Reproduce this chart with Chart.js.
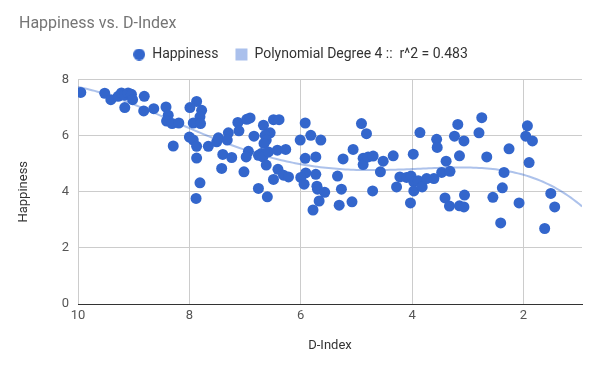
<!DOCTYPE html>
<html>
<head>
<meta charset="utf-8">
<title>Happiness vs. D-Index</title>
<script src="https://cdn.jsdelivr.net/npm/chart.js@4.4.1/dist/chart.umd.min.js"></script>
<style>
	html, body { margin: 0; padding: 0; background: #fff; }
	#wrap { width: 600px; height: 371px; }
</style>
</head>
<body>
<div id="wrap"><canvas id="chart" width="600" height="371"></canvas></div>
<script>
//______ data

var dIndex = [
	9.95, 9.52, 9.41, 9.28, 9.22, 9.16, 9.10, 9.04, 9.02, 9.16,
	8.81, 8.82, 8.64, 8.42, 8.38, 8.41, 8.31, 8.19, 8.29, 7.87,
	7.99, 7.78, 7.81, 7.93, 7.80, 8.00, 7.93, 7.87, 7.66, 7.87,
	7.81, 7.88, 7.51, 7.48, 7.40, 7.42, 7.30, 7.32, 7.24, 7.13,
	7.11, 6.97, 6.91, 6.84, 6.94, 6.98, 7.02, 6.76, 6.76, 6.67,
	6.55, 6.64, 6.62, 6.66, 6.71, 6.68, 6.58, 6.62, 6.49, 6.39,
	6.42, 6.27, 6.41, 6.49, 6.31, 6.22, 6.60, 6.01, 5.92, 5.82,
	5.64, 5.92, 5.73, 5.91, 6.00, 5.94, 5.73, 5.71, 5.70, 5.57,
	5.67, 5.78, 5.34, 5.27, 5.31, 5.08, 5.24, 5.06, 4.91, 4.82,
	4.88, 4.88, 4.79, 4.70, 4.71, 4.57, 4.52, 4.34, 4.28, 4.22,
	4.10, 4.02, 3.98, 3.97, 3.97, 3.89, 3.82, 3.74, 3.61, 4.03,
	3.86, 3.56, 3.55, 3.47, 3.39, 3.32, 3.41, 3.33, 3.15, 3.07,
	3.06, 3.24, 3.18, 3.07, 3.15, 2.80, 2.75, 2.66, 2.55, 2.38,
	2.35, 2.26, 2.41, 2.08, 1.93, 1.96, 1.84, 1.90, 1.51, 1.44,
	1.62
];

var happiness = [
	7.54, 7.51, 7.28, 7.40, 7.52, 7.44, 7.52, 7.47, 7.28, 7.00,
	7.40, 6.88, 6.96, 7.02, 6.73, 6.52, 6.43, 6.45, 5.63, 7.22,
	7.00, 6.90, 6.67, 6.45, 6.43, 5.95, 5.84, 5.62, 5.62, 5.20,
	4.32, 3.76, 5.78, 5.92, 5.33, 4.83, 6.10, 5.84, 5.22, 6.47,
	6.17, 6.58, 6.63, 5.98, 5.44, 5.24, 4.71, 5.30, 4.12, 6.37,
	6.10, 6.01, 5.84, 5.72, 5.36, 5.24, 5.42, 4.95, 6.57, 6.57,
	5.48, 5.51, 4.80, 4.44, 4.59, 4.53, 3.82, 5.84, 6.45, 6.01,
	5.84, 5.19, 5.24, 4.67, 4.51, 4.27, 4.62, 4.20, 4.09, 3.98,
	3.67, 3.35, 4.56, 4.09, 3.52, 3.64, 5.17, 5.51, 6.43, 6.07,
	5.19, 4.97, 5.24, 5.27, 4.03, 4.71, 5.09, 5.28, 4.17, 4.53,
	4.51, 4.56, 5.34, 4.35, 4.03, 4.39, 4.17, 4.47, 4.47, 3.60,
	6.11, 5.87, 5.58, 4.69, 5.09, 4.73, 3.78, 3.49, 3.50, 3.46,
	3.88, 5.98, 6.40, 5.81, 5.28, 6.10, 6.64, 5.24, 3.80, 4.14,
	4.69, 5.53, 2.89, 3.60, 6.35, 5.98, 5.81, 5.04, 3.94, 3.46,
	2.69
];

var xTicks = [10, 8, 6, 4, 2];
var yTicks = [0, 2, 4, 6, 8];
var xRange = [0.95, 10];
var trendDegree = 4;
var trendR2 = '0.483';

//______ least squares polynomial trendline (what the original chart shows)

function polyFit(xs, ys, degree) {
	var n = degree + 1;
	var A = [];
	var b = [];
	for(var i = 0; i < n; i++) {
		A.push(new Array(n).fill(0));
		b.push(0);
	}

	xs.forEach((x, k) => {
		var t = x / 10;
		for(var i = 0; i < n; i++) {
			for(var j = 0; j < n; j++) {
				A[i][j] += Math.pow(t, i + j);
			}
			b[i] += Math.pow(t, i) * ys[k];
		}
	});

	for(var c = 0; c < n; c++) {
		var p = c;
		for(var r = c + 1; r < n; r++) {
			if(Math.abs(A[r][c]) > Math.abs(A[p][c])) p = r;
		}
		var tmp = A[c]; A[c] = A[p]; A[p] = tmp;
		var tb = b[c]; b[c] = b[p]; b[p] = tb;
		for(var r = c + 1; r < n; r++) {
			var f = A[r][c] / A[c][c];
			for(var k = c; k < n; k++) A[r][k] -= f * A[c][k];
			b[r] -= f * b[c];
		}
	}

	var coef = new Array(n).fill(0);
	for(var r = n - 1; r >= 0; r--) {
		var s = b[r];
		for(var k = r + 1; k < n; k++) s -= A[r][k] * coef[k];
		coef[r] = s / A[r][r];
	}

	return function(x) {
		var t = x / 10;
		var sum = 0;
		for(var i = 0; i < n; i++) sum += coef[i] * Math.pow(t, i);
		return sum;
	};
}

var trend = polyFit(dIndex, happiness, trendDegree);
var trendPoints = [];
for(var x = xRange[1]; x >= xRange[0] - 0.001; x -= 0.05) {
	trendPoints.push({ x: x, y: trend(x) });
}

var points = dIndex.map((x, i) => ({ x: x, y: happiness[i] }));

//______ legend marker for the scatter series

function makeDot(color, size) {
	var c = document.createElement('canvas');
	c.width = size;
	c.height = size;
	var g = c.getContext('2d');
	g.fillStyle = color;
	g.beginPath();
	g.arc(size / 2, size / 2, size / 2, 0, Math.PI * 2);
	g.fill();
	return c;
}

var blue = '#3366cc';
var trendColor = 'rgba(51, 102, 204, 0.4)';

Chart.defaults.font.family = 'Roboto';

// extra room between the legend row and the plot
var legendGap = {
	id: 'legendGap',
	beforeInit: function(chart) {
		var fit = chart.legend.fit;
		chart.legend.fit = function() {
			fit.bind(chart.legend)();
			this.height += 8;
		};
	}
};

var ctx = document.getElementById('chart');

var myChart = new Chart(ctx, {
	type: 'scatter',
	data: {
		datasets: [
			{
				label: 'Happiness',
				data: points,
				backgroundColor: blue,
				borderWidth: 0,
				pointRadius: 5.5,
				order: 0
			},
			{
				type: 'line',
				label: 'Polynomial Degree ' + trendDegree + ' ::  r^2 = ' + trendR2,
				data: trendPoints,
				borderColor: trendColor,
				borderWidth: 2,
				pointRadius: 0,
				fill: false,
				order: 1
			}
		]
	},
	options: {
		responsive: false,
		animation: false,
		layout: { padding: { left: 19, right: 18, top: 0, bottom: 0 } },
		plugins: {
			tooltip: { enabled: false },
			title: {
				display: true,
				text: 'Happiness vs. D-Index',
				align: 'start',
				color: '#757575',
				font: { size: 16, weight: 'normal' },
				padding: { top: 14.4, bottom: -3.1 }
			},
			legend: {
				display: true,
				labels: {
					color: '#333',
					font: { size: 14 },
					usePointStyle: true,
					boxWidth: 12,
					boxHeight: 12,
					padding: 17,
					generateLabels: function(chart) {
						return [
							{
								text: chart.data.datasets[0].label,
								fillStyle: blue,
								strokeStyle: blue,
								lineWidth: 0,
								pointStyle: makeDot(blue, 12),
								fontColor: '#333',
								datasetIndex: 0
							},
							{
								text: chart.data.datasets[1].label,
								fillStyle: '#aac0ec',
								strokeStyle: '#aac0ec',
								lineWidth: 0,
								pointStyle: 'rect',
								fontColor: '#333',
								datasetIndex: 1
							}
						];
					}
				}
			}
		},
		scales: {
			x: {
				type: 'linear',
				reverse: true,
				min: xRange[0],
				max: xRange[1],
				afterBuildTicks: function(scale) {
					scale.ticks = xTicks.map(v => ({ value: v }));
				},
				afterFit: function(scale) {
					scale.height = 67;
				},
				grid: { color: '#cccccc', drawTicks: false },
				border: { display: true, color: '#333333', width: 1 },
				ticks: { color: '#555', font: { size: 13 }, padding: 4 },
				title: {
					display: true,
					text: 'D-Index',
					color: '#333',
					font: { size: 13 },
					padding: { top: 0, bottom: 17 }
				}
			},
			y: {
				type: 'linear',
				min: yTicks[0],
				max: yTicks[yTicks.length - 1],
				afterBuildTicks: function(scale) {
					scale.ticks = yTicks.map(v => ({ value: v }));
				},
				afterFit: function(scale) {
					scale.width = 59;
				},
				grid: {
					color: function(c) { return c.tick && c.tick.value === 0 ? '#333333' : '#cccccc'; },
					drawTicks: false
				},
				border: { display: false },
				ticks: { color: '#555', font: { size: 13 }, padding: 9 },
				title: {
					display: true,
					text: 'Happiness',
					color: '#333',
					font: { size: 13 },
					padding: { top: -3, bottom: 0 }
				}
			}
		}
	},
	plugins: [legendGap]
});
</script>
</body>
</html>
